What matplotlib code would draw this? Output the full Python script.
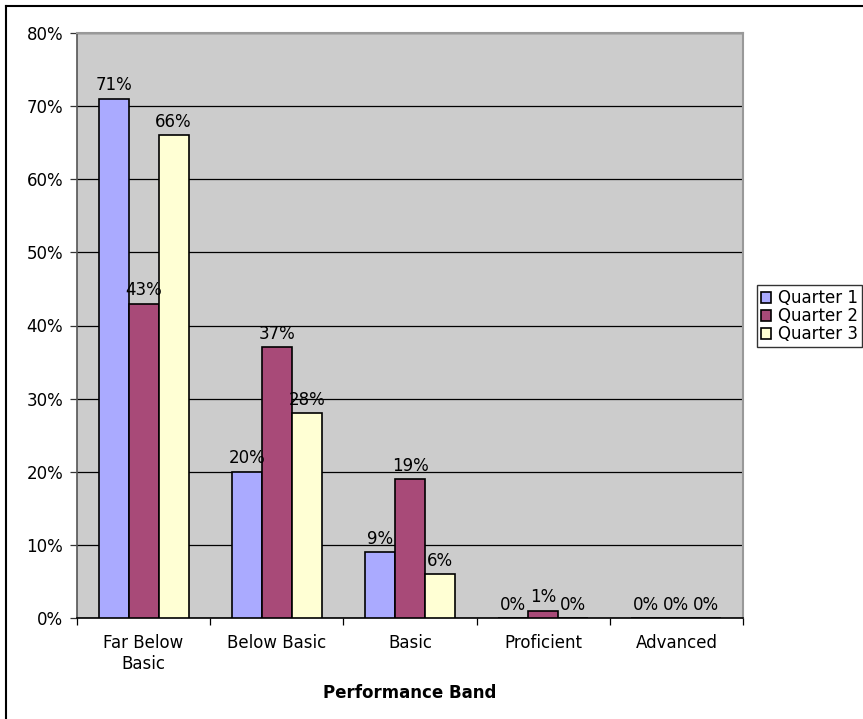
import numpy as np
import matplotlib
matplotlib.use("Agg")
import matplotlib.pyplot as plt
from matplotlib.lines import Line2D

bands = ["Far Below\nBasic", "Below Basic", "Basic", "Proficient", "Advanced"]
quarter1 = [71, 20, 9, 0, 0]
quarter2 = [43, 37, 19, 1, 0]
quarter3 = [66, 28, 6, 0, 0]
series_names = ["Quarter 1", "Quarter 2", "Quarter 3"]
colors = ["#AAAAFF", "#A84A78", "#FFFFD4"]

plt.rcParams["font.family"] = "DejaVu Sans"
plt.rcParams["font.size"] = 12

fig = plt.figure(figsize=(8.63, 7.19), dpi=100)
ax = fig.add_axes([77 / 863, 1 - 618 / 719, 666 / 863, 585 / 719])
ax.set_facecolor("#CCCCCC")

x = np.arange(len(bands))
w = 0.225
for k, (vals, name, c) in enumerate(zip([quarter1, quarter2, quarter3], series_names, colors)):
    bars = ax.bar(x + (k - 1) * w, vals, w, color=c, edgecolor="black", linewidth=1.2,
                  label=name, zorder=3)
    for b, v in zip(bars, vals):
        ax.annotate(f"{v}%", (b.get_x() + b.get_width() / 2, v), xytext=(0, 6),
                    textcoords="offset points", ha="center", va="baseline", zorder=4)

ax.set_xlim(-0.5, 4.5)
ax.set_ylim(0, 80)
ax.set_yticks(range(0, 81, 10))
ax.set_yticklabels([f"{v}%" for v in range(0, 81, 10)])
ax.yaxis.grid(True, color="black", linewidth=0.9, zorder=1)
ax.tick_params(axis="y", length=5, width=0.9, pad=5, color="#333333")

ax.set_xticks(x)
ax.set_xticklabels(bands)
ax.set_xticks(np.arange(-0.5, 5, 1), minor=True)
ax.tick_params(axis="x", which="major", length=0, pad=11.5)
ax.tick_params(axis="x", which="minor", length=5, width=0.9, direction="out")
ax.set_xlabel("Performance Band", fontweight="bold", labelpad=8)

for side in ["top", "right"]:
    ax.spines[side].set_color("#999999")
    ax.spines[side].set_linewidth(1.5)
ax.spines["left"].set_color("#555555")
ax.spines["left"].set_linewidth(1.2)
ax.spines["bottom"].set_color("black")
ax.spines["bottom"].set_linewidth(1.2)

leg = fig.legend(loc="upper left", bbox_to_anchor=(757 / 863, 1 - 285 / 719),
                 frameon=True, fancybox=False, edgecolor="black", borderaxespad=0,
                 handlelength=0.6, handleheight=0.6, handletextpad=0.4,
                 labelspacing=0.0, borderpad=0.25)
leg.get_frame().set_linewidth(1.0)

# chart border along the top and left
fig.add_artist(Line2D([6 / 863, 1], [1 - 6 / 719, 1 - 6 / 719], color="black", linewidth=1.5))
fig.add_artist(Line2D([6 / 863, 6 / 863], [0, 1 - 6 / 719], color="black", linewidth=1.5))

fig.savefig("out.png", dpi=100)
